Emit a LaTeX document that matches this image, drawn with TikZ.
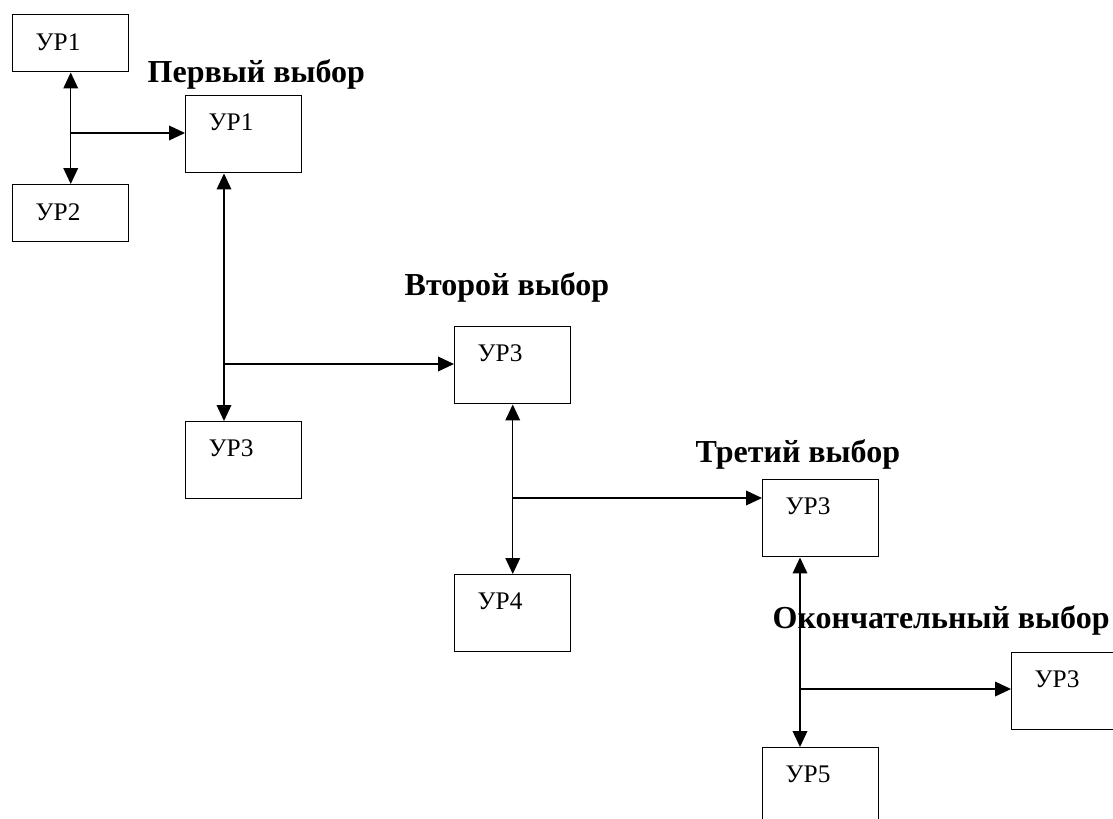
\documentclass[tikz,border=0pt]{standalone}
\usepackage{fontspec}
\setmainfont{Liberation Serif}
\usetikzlibrary{arrows.meta}

\begin{document}
\begin{tikzpicture}[x=0.75pt, y=-0.75pt,
  line width=1.1pt,
  tip/.style={-{Triangle[length=12pt,width=11pt]}},
  twotips/.style={{Triangle[length=12pt,width=11pt]}-{Triangle[length=12pt,width=11pt]}},
  urbox/.style={draw, anchor=north west, inner xsep=17.25pt, inner ysep=0pt,
    text width=52.5pt, align=left, text height=26.25pt, text depth=31.5pt,
    font=\fontsize{19}{21}\selectfont},
  urlow/.style={urbox, text height=27pt, text depth=15.75pt},
  choice/.style={anchor=base west, inner sep=0pt, font=\fontsize{24}{26}\selectfont\bfseries}]

\useasboundingbox (0,0) rectangle (1113,818);
\clip (0,0) rectangle (1113,818);

% === STEP 1 ===
\node[urlow] (ur1a) at (12,14) {УР1};
\node[urlow] (ur2a) at (12,184) {УР2};
\node[urbox] (ur1b) at (185,95) {УР1};
\node[choice] (first) at (147,82) {Первый выбор};
\coordinate (j1) at (70,133);
\draw[twotips] (ur1a.south) -- (ur2a.north);
\draw[tip] (j1) -- (j1 -| ur1b.west);

% === STEP 2 ===
\node[urbox] (ur3a) at (185,421) {УР3};
\node[urbox] (ur3b) at (454,326) {УР3};
\node[choice] (second) at (404,295) {Второй выбор};
\coordinate (j2) at (224,364);
\draw[twotips] (ur1b.south -| j2) -- (ur3a.north -| j2);
\draw[tip] (j2) -- (j2 -| ur3b.west);

% === STEP 3 ===
\node[urbox] (ur4) at (454,574) {УР4};
\node[urbox] (ur3c) at (762,479) {УР3};
\node[choice] (third) at (695,462) {Третий выбор};
\coordinate (j3) at (512,498);
\draw[twotips] (ur3b.south) -- (ur4.north);
\draw[tip] (j3) -- (j3 -| ur3c.west);

% === FINAL ===
\node[urbox] (ur5) at (762,747) {УР5};
\node[urbox] (ur3d) at (1011,652) {УР3};
\coordinate (j4) at (800,689);
\draw[twotips] (ur3c.south -| j4) -- (ur5.north -| j4);
\draw[tip] (j4) -- (j4 -| ur3d.west);
\node[choice] (final) at (772,628) {Окончательный выбор};

\end{tikzpicture}
\end{document}
